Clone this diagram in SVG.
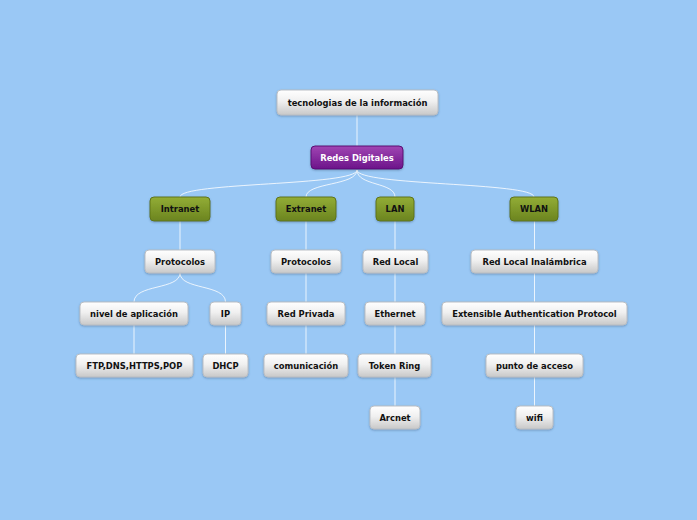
<svg xmlns="http://www.w3.org/2000/svg" width="697" height="520" viewBox="0 0 697 520">
<defs>
<linearGradient id="gw" x1="0" y1="0" x2="0" y2="1"><stop offset="0" stop-color="#ffffff"/><stop offset="0.45" stop-color="#f0f0f0"/><stop offset="1" stop-color="#c8c8c8"/></linearGradient>
<linearGradient id="gg" x1="0" y1="0" x2="0" y2="1"><stop offset="0" stop-color="#93ad35"/><stop offset="1" stop-color="#6b8420"/></linearGradient>
<linearGradient id="gp" x1="0" y1="0" x2="0" y2="1"><stop offset="0" stop-color="#a045b3"/><stop offset="1" stop-color="#6c148a"/></linearGradient>
<filter id="sh" x="-10%" y="-20%" width="120%" height="150%"><feDropShadow dx="0" dy="1" stdDeviation="0.8" flood-color="#3a5d80" flood-opacity="0.45"/></filter>
</defs>
<style>
.w{fill:url(#gw);stroke:#b9bec4;stroke-width:1;filter:url(#sh)}
.g{fill:url(#gg);stroke:#5f7419;stroke-width:1;filter:url(#sh)}
.p{fill:url(#gp);stroke:#5a0d74;stroke-width:1;filter:url(#sh)}
text{font-family:"DejaVu Sans",Verdana,sans-serif;font-weight:bold;font-size:8.4px;text-anchor:middle;dominant-baseline:central;fill:#111}
.pt{fill:#fff}
.c{fill:none;stroke:#ffffff;stroke-opacity:0.8;stroke-width:1}
</style>
<rect width="697" height="520" fill="#9ac8f5"/>
<g id="connectors">
<path class="c" d="M357,115 L357,146"/>
<path class="c" d="M357,170 C357,186 180,182 180,197"/>
<path class="c" d="M357,170 C357,186 306,182 306,197"/>
<path class="c" d="M357,170 C357,186 395,182 395,197"/>
<path class="c" d="M357,170 C357,186 534,182 534,197"/>
<path class="c" d="M180,221 L180,250"/>
<path class="c" d="M306,221 L306,250"/>
<path class="c" d="M395,221 L395,250"/>
<path class="c" d="M534.5,221 L534.5,250"/>
<path class="c" d="M180,273 C180,290 134,284 134,302"/>
<path class="c" d="M180,273 C180,290 225.5,284 225.5,302"/>
<path class="c" d="M306,273 L306,302"/>
<path class="c" d="M395,273 L395,302"/>
<path class="c" d="M534.5,273 L534.5,302"/>
<path class="c" d="M134,325 L134,354"/>
<path class="c" d="M225.5,325 L225.5,354"/>
<path class="c" d="M306,325 L306,354"/>
<path class="c" d="M395,325 L395,354"/>
<path class="c" d="M534.5,325 L534.5,354"/>
<path class="c" d="M395,377 L395,406"/>
<path class="c" d="M534.5,377 L534.5,406"/>
</g>
<g id="root"><rect class="w" x="277" y="90" width="161" height="25" rx="4"/><text x="357.5" y="102.5">tecnologias de la información</text></g>
<g id="redes"><rect class="p" x="311" y="146" width="92" height="23" rx="4"/><text class="pt" x="357" y="157.5">Redes Digitales</text></g>
<g id="intranet"><rect class="g" x="150" y="197" width="60" height="24" rx="4"/><text x="180" y="209">Intranet</text></g>
<g id="extranet"><rect class="g" x="276" y="197" width="60" height="24" rx="4"/><text x="306" y="209">Extranet</text></g>
<g id="lan"><rect class="g" x="376" y="197" width="38" height="24" rx="4"/><text x="395" y="209">LAN</text></g>
<g id="wlan"><rect class="g" x="510" y="197" width="48" height="24" rx="4"/><text x="534" y="209">WLAN</text></g>
<g id="protocolos1"><rect class="w" x="145" y="250" width="70" height="23" rx="4"/><text x="180" y="261.5">Protocolos</text></g>
<g id="protocolos2"><rect class="w" x="271" y="250" width="70" height="23" rx="4"/><text x="306" y="261.5">Protocolos</text></g>
<g id="redlocal"><rect class="w" x="363" y="250" width="65" height="23" rx="4"/><text x="395.5" y="261.5">Red Local</text></g>
<g id="redlocalinal"><rect class="w" x="471" y="250" width="127" height="23" rx="4"/><text x="534.5" y="261.5">Red Local Inalámbrica</text></g>
<g id="nivel"><rect class="w" x="80" y="302" width="108" height="23" rx="4"/><text x="134" y="313.5">nivel de aplicación</text></g>
<g id="ip"><rect class="w" x="210" y="302" width="31" height="23" rx="4"/><text x="225.5" y="313.5">IP</text></g>
<g id="redprivada"><rect class="w" x="267" y="302" width="78" height="23" rx="4"/><text x="306" y="313.5">Red Privada</text></g>
<g id="ethernet"><rect class="w" x="365" y="302" width="60" height="23" rx="4"/><text x="395" y="313.5">Ethernet</text></g>
<g id="eap"><rect class="w" x="442" y="302" width="185" height="23" rx="4"/><text x="534.5" y="313.5">Extensible Authentication Protocol</text></g>
<g id="ftp"><rect class="w" x="76" y="354" width="117" height="23" rx="4"/><text x="134.5" y="365.5">FTP,DNS,HTTPS,POP</text></g>
<g id="dhcp"><rect class="w" x="203" y="354" width="45" height="23" rx="4"/><text x="225.5" y="365.5">DHCP</text></g>
<g id="comunicacion"><rect class="w" x="264" y="354" width="84" height="23" rx="4"/><text x="306" y="365.5">comunicación</text></g>
<g id="tokenring"><rect class="w" x="358" y="354" width="73" height="23" rx="4"/><text x="394.5" y="365.5">Token Ring</text></g>
<g id="puntoacceso"><rect class="w" x="486" y="354" width="97" height="23" rx="4"/><text x="534.5" y="365.5">punto de acceso</text></g>
<g id="arcnet"><rect class="w" x="370" y="406" width="50" height="23" rx="4"/><text x="395" y="417.5">Arcnet</text></g>
<g id="wifi"><rect class="w" x="516" y="406" width="37" height="23" rx="4"/><text x="534.5" y="417.5">wifi</text></g>
</svg>
